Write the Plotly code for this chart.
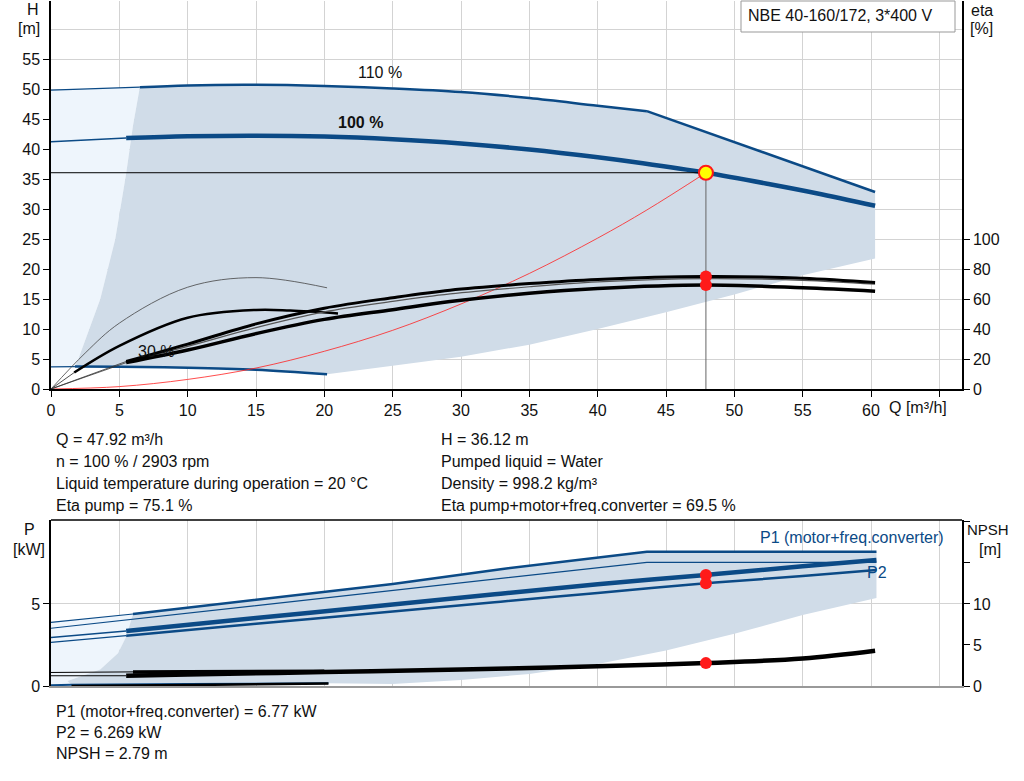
import plotly.graph_objects as go

# ---------------- data ----------------
# Q-H curves [m3/h, m]
q110 = [0, 6.5, 10, 15, 20, 25, 30, 35, 40, 43.6, 47.9, 52.4, 60.3]
h110 = [49.9, 50.4, 50.7, 50.8, 50.6, 50.2, 49.6, 48.6, 47.3, 46.4, 42.9, 39.2, 32.9]
q100 = [0, 5.5, 10, 15, 20, 25, 30, 35, 40, 43.3, 47.92, 52.6, 56, 60.3]
h100 = [41.3, 41.9, 42.2, 42.3, 42.15, 41.7, 41.0, 40.0, 38.7, 37.7, 36.12, 34.2, 32.7, 30.6]
q30 = [0, 1.75, 5, 10, 15, 20.2]
h30 = [3.7, 3.75, 3.7, 3.55, 3.2, 2.45]
# operating-range boundary
q_low = [60.3, 55, 50, 45, 40, 35, 30, 25, 20.2]
h_low = [21.8, 19.0, 15.8, 12.8, 10.0, 7.4, 5.4, 3.9, 2.45]
q_left = [1.75, 2.0, 3.6, 4.7, 5.5, 6.0, 6.5]
h_left = [3.75, 5, 15, 25, 36, 44, 50.4]
# system curve
sys_q = [0, 5, 10, 15, 20, 25, 30, 35, 40, 43.6, 47.92]
sys_h = [0, 0.4, 1.6, 3.5, 6.3, 9.8, 14.2, 19.3, 25.2, 29.9, 36.12]
# efficiency curves [%]
eta_q = [0, 5.5, 10, 15, 20, 25, 29.2, 35, 40, 47.92, 55, 60.3]
eta_pump = [0, 18.4, 30, 43.5, 54, 61, 66, 70.4, 73.2, 75.1, 74.0, 71.1]
eta_mid = [0, 18.0, 28.5, 41, 51.5, 58.5, 63.5, 68.3, 71.5, 73.7, 72.6, 70.0]
eta_total = [0, 17.6, 26, 37, 46.5, 53, 58.4, 64, 67.2, 69.5, 67.6, 65.3]
eta30_q = [0, 1.7, 5, 10, 15, 17.5, 21]
eta30 = [0, 11, 28.8, 47.6, 52.8, 52.4, 50.5]
eta30p_q = [0, 2.5, 5, 10, 15, 20.2]
eta30p = [0, 24, 44, 68, 74.4, 67.6]
# operating point
op_q, op_h = 47.92, 36.12
op_eta_pump, op_eta_total = 75.1, 69.5
op_p1, op_p2, op_npsh = 6.77, 6.269, 2.79

# power curves [kW]
p110_q = [0, 6.0, 15, 25, 32.9, 43.6, 60.4]
p1_110 = [3.88, 4.39, 5.25, 6.22, 7.12, 8.19, 8.19]
p2_110_q = [0, 32.9, 43.6, 60.4]
p2_110 = [3.52, 6.57, 7.54, 7.54]
p100_q = [0, 5.5, 15, 25, 32.9, 40, 47.92, 55, 60.4]
p1_100 = [2.95, 3.35, 4.14, 4.97, 5.63, 6.2, 6.77, 7.3, 7.68]
p2_100 = [2.66, 3.07, 3.79, 4.54, 5.14, 5.67, 6.269, 6.7, 7.07]
p30_q = [0, 1.5, 10, 20.3]
p30 = [0.05, 0.07, 0.12, 0.17]
pbound_q = [60.4, 55, 50, 45, 40, 35, 30, 25, 20.3]
pbound = [5.36, 4.33, 3.18, 2.16, 1.34, 0.73, 0.37, 0.12, 0.17]
pleft_q = [1.5, 1.2, 3.6, 4.9, 5.5, 6.0]
pleft = [0.07, 0.3, 1.0, 2.0, 3.0, 4.39]
# NPSH [m]
npsh_q = [0, 5.5, 10, 20, 30, 35, 40, 47.92, 55, 60.3]
npsh = [1.25, 1.25, 1.4, 1.7, 2.0, 2.2, 2.4, 2.79, 3.35, 4.3]
npsh110_q = [0, 6, 10, 20]
npsh110 = [1.65, 1.72, 1.75, 1.8]
npsh30_q = [1.5, 10, 20.3]
npsh30 = [0.0, 0.12, 0.3]

# ---------------- styling ----------------
BLUE = "#0B4A86"
GRAY_FILL = "#D0DCE8"
LIGHT_FILL = "#EEF5FC"
GRID = "#D3D3D3"
FONT = "Liberation Sans, Arial, sans-serif"
FS = 16
W, H = 1024, 781
L, R, T, B = 51, 62, 1, 95

def px(x, y):
    return (x - L) / (W - L - R), (H - B - y) / (H - T - B)

fig = go.Figure()

def line(x, y, xa, ya, color, width, shape="spline", dash=None):
    fig.add_trace(go.Scatter(x=x, y=y, xaxis=xa, yaxis=ya, mode="lines",
                             line=dict(color=color, width=width, shape=shape, dash=dash),
                             hoverinfo="skip", showlegend=False))

# ---- upper chart fills
light_x = q110[:2] + q_left[::-1] + [0]
light_y = h110[:2] + h_left[::-1] + [h30[0]]
fig.add_trace(go.Scatter(x=light_x, y=light_y, xaxis="x", yaxis="y", fill="toself",
                         fillcolor=LIGHT_FILL, line=dict(width=0), mode="lines",
                         hoverinfo="skip", showlegend=False))
gray_x = q110[1:] + q_low + q30[::-1][:-1] + q_left
gray_y = h110[1:] + h_low + h30[::-1][:-1] + h_left
fig.add_trace(go.Scatter(x=gray_x, y=gray_y, xaxis="x", yaxis="y", fill="toself",
                         fillcolor=GRAY_FILL, line=dict(width=0), mode="lines",
                         hoverinfo="skip", showlegend=False))

# ---- upper chart curves
line(q110[:2], h110[:2], "x", "y", BLUE, 1.2)
line(q110[1:10], h110[1:10], "x", "y", BLUE, 2.5)
line(q110[9:], h110[9:], "x", "y", BLUE, 2.5, shape="linear")
line(q100[:2], h100[:2], "x", "y", BLUE, 1.5)
line(q100[1:], h100[1:], "x", "y", BLUE, 4.5)
line(q30[:2], h30[:2], "x", "y", BLUE, 1.2)
line(q30[1:], h30[1:], "x", "y", BLUE, 2.5)

# efficiency (right axis)
line(eta30p_q, eta30p, "x", "y2", "#444444", 0.8)
line(eta30_q[:2], eta30[:2], "x", "y2", "#222222", 0.8)
line(eta30_q[1:], eta30[1:], "x", "y2", "black", 2.5)
line(eta_q[:2], eta_pump[:2], "x", "y2", "#333333", 0.8)
line(eta_q[:2], eta_total[:2], "x", "y2", "#333333", 0.8)
line(eta_q[1:], eta_mid[1:], "x", "y2", "#555555", 1.2)
line(eta_q[1:], eta_pump[1:], "x", "y2", "black", 3)
line(eta_q[1:], eta_total[1:], "x", "y2", "black", 3.5)

# system curve
line(sys_q, sys_h, "x", "y", "#FF2020", 0.8)

# operating point guides
line([0, op_q], [op_h, op_h], "x", "y", "black", 1, shape="linear")
line([op_q, op_q], [op_h, 0], "x", "y", "#666666", 1, shape="linear")

fig.add_trace(go.Scatter(x=[op_q, op_q], y=[op_eta_pump, op_eta_total], xaxis="x", yaxis="y2",
                         mode="markers", marker=dict(color="#FF1A1A", size=12),
                         hoverinfo="skip", showlegend=False))
fig.add_trace(go.Scatter(x=[op_q], y=[op_h], xaxis="x", yaxis="y", mode="markers",
                         marker=dict(color="#FFFF00", size=14, line=dict(color="#FF1A1A", width=2)),
                         hoverinfo="skip", showlegend=False))

# ---- lower chart fills
plight_x = p110_q[:2] + pleft_q[::-1] + [0]
plight_y = p1_110[:2] + pleft[::-1] + [p30[0]]
fig.add_trace(go.Scatter(x=plight_x, y=plight_y, xaxis="x2", yaxis="y3", fill="toself",
                         fillcolor=LIGHT_FILL, line=dict(width=0), mode="lines",
                         hoverinfo="skip", showlegend=False))
pgray_x = p110_q[1:] + pbound_q + p30_q[::-1][:-1] + pleft_q[1:]
pgray_y = p1_110[1:] + pbound + p30[::-1][:-1] + pleft[1:]
fig.add_trace(go.Scatter(x=pgray_x, y=pgray_y, xaxis="x2", yaxis="y3", fill="toself",
                         fillcolor=GRAY_FILL, line=dict(width=0), mode="lines",
                         hoverinfo="skip", showlegend=False))

# ---- lower chart curves
line(p110_q[:2], p1_110[:2], "x2", "y3", BLUE, 1.2, shape="linear")
line(p110_q[1:], p1_110[1:], "x2", "y3", BLUE, 2.5, shape="linear")
line(p2_110_q, p2_110, "x2", "y3", BLUE, 1.2, shape="linear")
line(p100_q[:2], p1_100[:2], "x2", "y3", BLUE, 1.5, shape="linear")
line(p100_q[1:], p1_100[1:], "x2", "y3", BLUE, 4.5)
line(p100_q[:2], p2_100[:2], "x2", "y3", BLUE, 1.2, shape="linear")
line(p100_q[1:], p2_100[1:], "x2", "y3", BLUE, 2.5)
line(npsh30_q, npsh30, "x2", "y4", "black", 2.5)
line(p30_q, p30, "x2", "y3", BLUE, 2)
line(npsh_q[:2], npsh[:2], "x2", "y4", "black", 1, shape="linear")
line(npsh_q[1:], npsh[1:], "x2", "y4", "black", 4.5)
line(npsh110_q[:2], npsh110[:2], "x2", "y4", "black", 1, shape="linear")
line(npsh110_q[1:], npsh110[1:], "x2", "y4", "black", 3.5)

fig.add_trace(go.Scatter(x=[op_q, op_q], y=[op_p1, op_p2], xaxis="x2", yaxis="y3", mode="markers",
                         marker=dict(color="#FF1A1A", size=12), hoverinfo="skip", showlegend=False))
fig.add_trace(go.Scatter(x=[op_q], y=[op_npsh], xaxis="x2", yaxis="y4", mode="markers",
                         marker=dict(color="#FF1A1A", size=12), hoverinfo="skip", showlegend=False))

# ---------------- layout ----------------
up0 = px(0, 389)[1]
low1 = px(0, 520)[1]
xr = [0, (W - L - R) / 13.6667]
xt = list(range(0, 70, 5))
tickfont = dict(family=FONT, size=FS, color="#111111")

fig.update_layout(
    width=W, height=H, margin=dict(l=L, r=R, t=T, b=B),
    paper_bgcolor="white", plot_bgcolor="white", showlegend=False,
    font=dict(family=FONT, size=FS, color="#111111"),
    xaxis=dict(domain=[0, 1], anchor="y", range=xr, tickvals=xt,
               ticktext=[str(v) if v <= 60 else "" for v in xt],
               ticks="outside", ticklen=6, tickcolor="black", showline=True, linecolor="black",
               linewidth=1.5, showgrid=True, gridcolor=GRID, zeroline=False, tickfont=tickfont),
    yaxis=dict(domain=[up0, 1], anchor="x", range=[0, 64.8], tickvals=list(range(0, 60, 5)),
               ticks="outside", ticklen=6, tickcolor="black", showline=True, linecolor="black",
               linewidth=1.5, showgrid=True, gridcolor=GRID, zeroline=False, tickfont=tickfont,
               minor=dict(tickvals=[60], showgrid=True, gridcolor=GRID, ticks="")),
    yaxis2=dict(overlaying="y", side="right", anchor="x", range=[0, 259.2],
                tickvals=[0, 20, 40, 60, 80, 100], ticks="outside", ticklen=6, tickcolor="black",
                showline=True, linecolor="black", linewidth=1.5, showgrid=False, zeroline=False,
                tickfont=tickfont),
    xaxis2=dict(domain=[0, 1], anchor="y3", range=xr, tickvals=xt, showticklabels=False,
                ticks="", showline=True, linecolor="#999999", linewidth=1.5, showgrid=True,
                gridcolor=GRID, zeroline=False),
    yaxis3=dict(domain=[0, low1], anchor="x2", range=[0, 10.12], tickvals=[0, 5],
                ticks="outside", ticklen=6, tickcolor="black", showline=True, linecolor="black",
                linewidth=1.5, showgrid=True, gridcolor=GRID, zeroline=False, tickfont=tickfont),
    yaxis4=dict(overlaying="y3", side="right", anchor="x2", range=[0, 20.24],
                tickvals=[0, 5, 10, 15, 20], ticktext=["0", "5", "10", "", ""],
                ticks="outside", ticklen=6, tickcolor="black", showline=True, linecolor="black",
                linewidth=1.5, showgrid=False, zeroline=False, tickfont=tickfont),
)

# top border of lower chart
fig.add_shape(type="line", xref="x2 domain", yref="y3 domain", x0=0, x1=1, y0=1, y1=1,
              line=dict(color="black", width=1.5))
# title box
bx0, by0 = px(741, 32)
bx1, by1 = px(955, 0)
fig.add_shape(type="rect", xref="paper", yref="paper", x0=bx0, x1=bx1, y0=by0, y1=1.0,
              line=dict(color="#999999", width=1), fillcolor="white", layer="above")

def text(x, y, s, anchor="left", color="#111111", size=FS, bold=False):
    xp, yp = px(x, y)
    fig.add_annotation(x=xp, y=yp, xref="paper", yref="paper", text=("<b>%s</b>" % s) if bold else s,
                       showarrow=False, xanchor=anchor, yanchor="middle",
                       font=dict(family=FONT, size=size, color=color))

text(746, 15, "NBE 40-160/172, 3*400 V")
text(33, 9, "H", "center")
text(29, 29, "[m]", "center")
text(982, 10, "eta", "center")
text(981, 29, "[%]", "center")
text(29, 529, "P", "center")
text(29, 549, "[kW]", "center")
text(965, 529, "NPSH", "left", size=15)
text(990, 549, "[m]", "center")
text(887, 407, "Q [m³/h]")
text(380, 72, "110 %", "center")
text(360, 123, "100 %", "center", bold=True)
text(156, 351, "30 %", "center")
text(946, 537, "P1 (motor+freq.converter)", "right", color=BLUE)
text(865, 572, "P2", "left", color=BLUE)

left_lines = ["Q = 47.92 m³/h", "n = 100 % / 2903 rpm",
              "Liquid temperature during operation = 20 °C", "Eta pump = 75.1 %"]
right_lines = ["H = 36.12 m", "Pumped liquid = Water", "Density = 998.2 kg/m³",
               "Eta pump+motor+freq.converter = 69.5 %"]
for i, s in enumerate(left_lines):
    text(54, 440 + i * 21.7, s)
for i, s in enumerate(right_lines):
    text(439, 440 + i * 21.7, s)
bottom_lines = ["P1 (motor+freq.converter) = 6.77 kW", "P2 = 6.269 kW", "NPSH = 2.79 m"]
for i, s in enumerate(bottom_lines):
    text(54, 711 + i * 21, s)

fig.write_html("out.html", config={"displayModeBar": False},
               post_script="document.body.style.margin='0';")
